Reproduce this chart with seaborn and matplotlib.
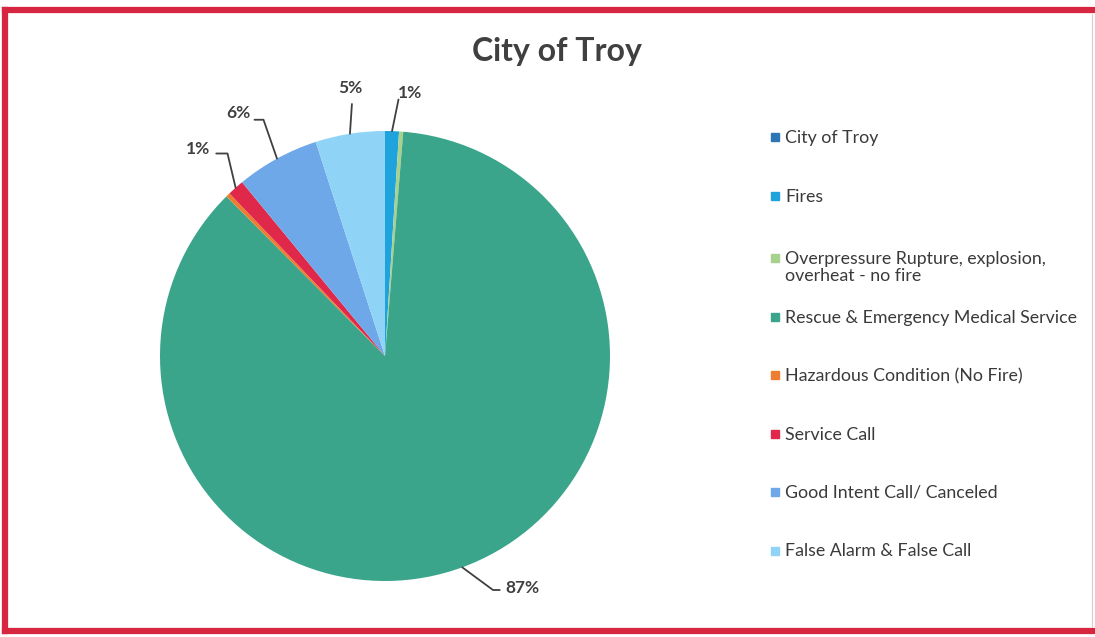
import numpy as np
import pandas as pd
import matplotlib
matplotlib.use("Agg")
import matplotlib.pyplot as plt
import matplotlib.patches as mpatches
import matplotlib.lines as mlines
import seaborn as sns

# data (percent of calls)
categories = ["City of Troy", "Fires", "Overpressure Rupture, explosion,\noverheat - no fire",
              "Rescue & Emergency Medical Service", "Hazardous Condition (No Fire)",
              "Service Call", "Good Intent Call/ Canceled", "False Alarm & False Call"]
values = [0.0, 1.0, 0.3, 86.6, 0.3, 1.2, 6.0, 5.0]
pct_labels = ["", "1%", "", "87%", "", "1%", "6%", "5%"]
colors = ["#2E75B6", "#1FA3DD", "#A9D18E", "#3AA58A", "#ED7D31", "#E0284A", "#6FA8E8", "#8FD3F7"]

df = pd.DataFrame({"category": categories, "value": values, "label": pct_labels})

sns.set_style("white")
plt.rcParams["font.family"] = ["Lato", "DejaVu Sans"]

W, H = 1095, 637
fig = plt.figure(figsize=(W / 100, H / 100), dpi=100)
fig.patch.set_facecolor("white")

def fx(px):
    return px / W

def fy(py):
    return 1 - py / H

# red frame (right side is cut off in the original)
red = "#D7263F"
for xs, ys in [([5, W + 10], [10, 10]), ([5, 5], [10, 631]), ([5, W + 10], [631, 631])]:
    fig.add_artist(mlines.Line2D([fx(x) for x in xs], [fy(y) for y in ys], color=red,
                                 linewidth=4.5, transform=fig.transFigure, clip_on=False,
                                 solid_capstyle="projecting"))
fig.add_artist(mlines.Line2D([fx(1092), fx(1092)], [fy(14), fy(627)], color="#d0d0d0",
                             linewidth=0.8, transform=fig.transFigure))

fig.text(fx(557), fy(52), "City of Troy", ha="center", va="center",
         fontsize=23, fontweight="bold", color="#404040")

ax = fig.add_axes([fx(385 - 225), fy(356 + 225), 450 / W, 450 / H])
wedges, _ = ax.pie(df["value"], colors=colors, startangle=90, counterclock=False,
                   wedgeprops=dict(linewidth=0))
ax.set_xlim(-1, 1)
ax.set_ylim(-1, 1)
ax.set_aspect("equal")
ax.axis("off")

# leader lines: (elbow point, end point, text point) in axes data units
label_pos = {
    1: [(0.06, 1.14), (0.06, 1.14), (0.11, 1.17)],
    3: [(0.48, -1.04), (0.51, -1.04), (0.61, -1.03)],
    5: [(-0.70, 0.90), (-0.75, 0.90), (-0.83, 0.92)],
    6: [(-0.54, 1.05), (-0.58, 1.05), (-0.65, 1.08)],
    7: [(-0.147, 1.12), (-0.147, 1.12), (-0.155, 1.19)],
}
for i, w in enumerate(wedges):
    if not pct_labels[i]:
        continue
    ang = np.deg2rad((w.theta1 + w.theta2) / 2)
    x0, y0 = np.cos(ang), np.sin(ang)
    elbow, end, txt = label_pos[i]
    ax.plot([x0, elbow[0], end[0]], [y0, elbow[1], end[1]], color="#404040",
            linewidth=1.3, clip_on=False)
    ax.text(txt[0], txt[1], pct_labels[i], ha="center", va="center", fontsize=12.5,
            fontweight="bold", color="#404040", clip_on=False)

# legend, drawn entry by entry like the Excel one
leg_y0, leg_step = 137, 58.5
for i, (cat, c) in enumerate(zip(categories, colors)):
    y = leg_y0 + leg_step * i + (4 if i >= 2 else 0)
    fig.add_artist(mpatches.Rectangle((fx(771), fy(y + 4)), 8 / W, 8 / H, color=c,
                                      transform=fig.transFigure))
    fig.text(fx(785), fy(y - 7), cat, ha="left", va="top", fontsize=12.8,
             color="#3a3a3a", linespacing=1.1)

fig.savefig("out.png", dpi=100, facecolor="white")
